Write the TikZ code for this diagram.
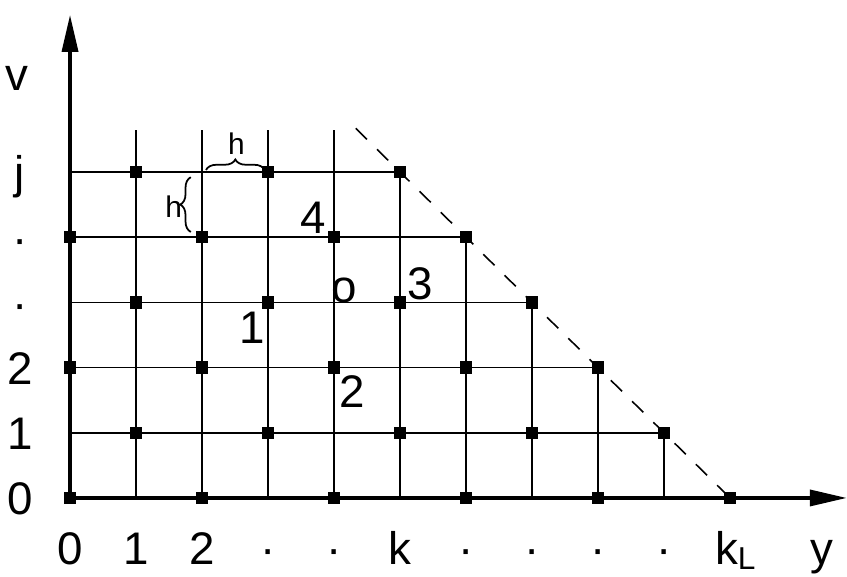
\documentclass[tikz,border=0pt]{standalone}
\usepackage{fontspec}
\setmainfont{Liberation Sans}
\usetikzlibrary{arrows.meta,positioning,calc,decorations.pathreplacing}

\begin{document}
\begin{tikzpicture}[x=1.32cm,y=1.304cm,
  gitter/.style={line width=0.9pt},
  achse/.style={line width=2pt,-{Triangle[length=0.74cm,width=0.32cm]}},
  punkt/.style={fill,inner sep=0pt,minimum size=0.25cm},
  gross/.style={font=\fontsize{26}{30}\selectfont},
  klein/.style={font=\fontsize{17}{20}\selectfont},
  klammer/.style={decorate,decoration={brace,amplitude=6pt},line width=1pt}]
  \useasboundingbox (-1.061,-1.212) rectangle (11.773,7.638); % Rand wie im Original
  \coordinate (O) at (0,0); % Ursprung
  \coordinate (xende) at (11.77,0); % Spitze der y-Achse (waagrecht)
  \coordinate (vende) at (0,7.41); % Spitze der v-Achse (senkrecht)
  \coordinate (strich1) at (4.33,5.67); % Anfang der gestrichelten Randlinie
  \coordinate (strich2) at (10,0); % Ende der gestrichelten Randlinie
  \foreach \j/\r in {1/9,2/8,3/7,4/6,5/5}
    \draw[gitter] (0,\j) -- (\r,\j); % waagrechte Gitterlinien bis zum Rand
  \foreach \i in {1,...,4}
    \draw[gitter] (\i,0) -- (\i,5.64); % senkrechte Gitterlinien links
  \foreach \i in {5,...,9}
    \draw[gitter] (\i,0) -- (\i,10-\i); % senkrechte Gitterlinien bis zum Rand
  \draw[gitter,dash pattern=on 9pt off 8pt] (strich1) -- (strich2); % schraeger Rand
  \draw[achse] (O) -- (vende); % v-Achse
  \draw[achse] (O) -- (xende); % y-Achse
  \foreach \j in {0,...,5}{
    \pgfmathtruncatemacro\imax{10-\j}
    \foreach \i in {0,...,\imax}{
      \pgfmathtruncatemacro\paritaet{mod(\i+\j,2)}
      \ifnum\paritaet=0 \node[punkt] (p\i\j) at (\i,\j) {};\fi % Gitterpunkte
    }}
  \draw[klammer] (2.06,5.03) -- (2.95,5.03); % Schrittweite waagrecht
  \draw[klammer] (1.83,4.08) -- (1.83,4.92); % Schrittweite senkrecht
  \node[klein] (hw) at (2.52,5.43) {h};
  \node[klein] (hs) at (1.57,4.47) {h};
  \node[gross] (n4) at (3.68,4.29) {4};
  \node[gross] (n0) at (4.15,3.19) {o};
  \node[gross] (n1) at (2.76,2.61) {1};
  \node[gross] (n2) at (4.27,1.63) {2};
  \node[gross] (n3) at (5.30,3.28) {3};
  \node[gross] (lv) at (-0.8,6.44) {v};
  \foreach \j/\t in {0/0,1/1,2/2,3/·,4/·,5/j}
    \node[gross,anchor=base] (lv\j) at (-0.76,\j-0.26) {\t}; % Beschriftung v-Achse
  \foreach \i/\t in {0/0,1/1,2/2,3/·,4/·,5/k,6/·,7/·,8/·,9/·}
    \node[gross,anchor=base] (ly\i) at (\i,-1.02) {\t}; % Beschriftung y-Achse
  \node[gross,anchor=base] (ly10) at (10.08,-1.02)
    {k\raisebox{-0.12em}{\fontsize{18}{20}\selectfont L}};
  \node[gross,anchor=base] (ly) at (11.39,-1.02) {y};
\end{tikzpicture}
\end{document}
